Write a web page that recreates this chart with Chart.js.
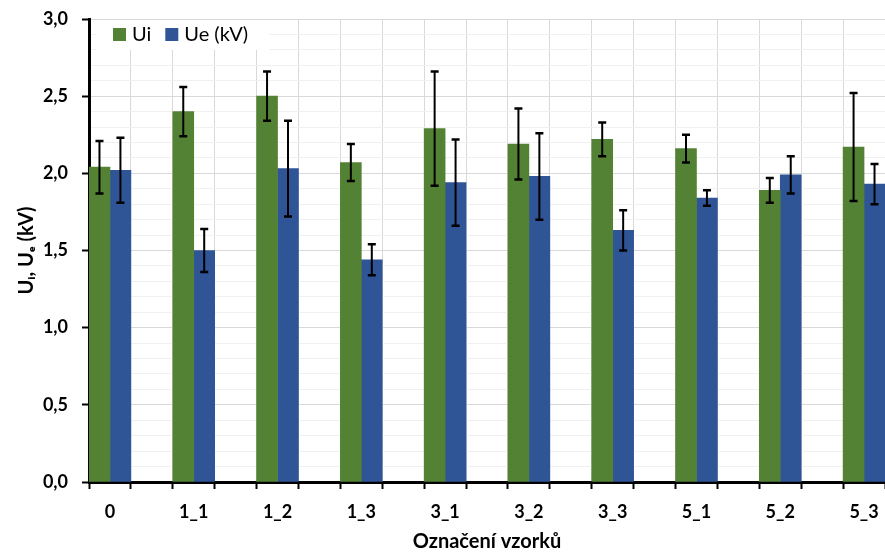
<!DOCTYPE html>
<html>
<head>
<meta charset="utf-8">
<script src="https://cdn.jsdelivr.net/npm/chart.js@4.4.1/dist/chart.umd.min.js"></script>
<style>
  html, body { margin: 0; padding: 0; background: #fff; }
  #wrap { width: 885px; height: 554px; }
</style>
</head>
<body>
<div id="wrap"><canvas id="chart" width="885" height="554"></canvas></div>
<script>
// sample names on the x axis
const categories = ['0', '1_1', '1_2', '1_3', '3_1', '3_2', '3_3', '5_1', '5_2', '5_3'];
// Ui means and their error bars (kV)
const uiValues = [2.04, 2.40, 2.50, 2.07, 2.29, 2.19, 2.22, 2.16, 1.89, 2.17];
const uiErrors = [0.17, 0.16, 0.16, 0.12, 0.37, 0.23, 0.11, 0.09, 0.08, 0.35];
// Ue means and their error bars (kV)
const ueValues = [2.02, 1.50, 2.03, 1.44, 1.94, 1.98, 1.63, 1.84, 1.99, 1.93];
const ueErrors = [0.21, 0.14, 0.31, 0.10, 0.28, 0.28, 0.13, 0.05, 0.12, 0.13];
// labelled y ticks, the rest of the 0.1 steps are minor grid only
const yMajorTicks = [0, 0.5, 1.0, 1.5, 2.0, 2.5, 3.0];

const FONT = "Lato, 'DejaVu Sans', sans-serif";
Chart.defaults.font.family = FONT;
Chart.defaults.color = '#000';

const isMajor = v => yMajorTicks.some(t => Math.abs(t - v) < 1e-6);
const isEdge = v => Math.abs(v - Math.round(v)) > 0.1;   // group edges sit at i +/- 0.25
const tickVal = c => (c && c.tick) ? c.tick.value : NaN;

// black error bars with caps, read from dataset.errors
const errorBars = {
  id: 'errorBars',
  afterDatasetsDraw(chart) {
    const ctx = chart.ctx;
    const yScale = chart.scales.y;
    ctx.save();
    ctx.strokeStyle = '#000';
    chart.data.datasets.forEach((ds, d) => {
      const meta = chart.getDatasetMeta(d);
      meta.data.forEach((bar, i) => {
        const v = ds.data[i].y, e = ds.errors[i];
        const top = yScale.getPixelForValue(v + e);
        const bot = yScale.getPixelForValue(v - e);
        ctx.lineWidth = 2;
        ctx.beginPath();
        ctx.moveTo(bar.x, top); ctx.lineTo(bar.x, bot);
        ctx.stroke();
        ctx.lineWidth = 2.5;
        ctx.beginPath();
        ctx.moveTo(bar.x - 4, top); ctx.lineTo(bar.x + 4, top);
        ctx.moveTo(bar.x - 4, bot); ctx.lineTo(bar.x + 4, bot);
        ctx.stroke();
      });
    });
    ctx.restore();
  }
};

// legend inside the plot, top left, on a white patch
const innerLegend = {
  id: 'innerLegend',
  afterDatasetsDraw(chart) {
    const ctx = chart.ctx;
    const a = chart.chartArea;
    ctx.save();
    ctx.font = '20px ' + FONT;
    let x = a.left + 24;
    const y = a.top + 9;
    const widths = chart.data.datasets.map(ds => ctx.measureText(ds.label).width);
    const total = widths.reduce((s, w) => s + w + 33, 0);
    ctx.fillStyle = '#fff';
    ctx.fillRect(a.left + 7, a.top + 1, total + 24, 30);
    ctx.textBaseline = 'middle';
    chart.data.datasets.forEach((ds, i) => {
      ctx.fillStyle = ds.backgroundColor;
      ctx.fillRect(x, y, 13, 13);
      ctx.fillStyle = '#000';
      ctx.fillText(ds.label, x + 19, y + 7);
      x += 19 + widths[i] + 14;
    });
    ctx.restore();
  }
};

new Chart(document.getElementById('chart'), {
  type: 'bar',
  data: {
    datasets: [
      {
        label: 'Ui',
        data: categories.map((c, i) => ({ x: i, y: uiValues[i] })),
        errors: uiErrors,
        backgroundColor: '#548235'
      },
      {
        label: 'Ue (kV)',
        data: categories.map((c, i) => ({ x: i, y: ueValues[i] })),
        errors: ueErrors,
        backgroundColor: '#2F5597'
      }
    ]
  },
  options: {
    responsive: false,
    animation: false,
    barThickness: 'flex',
    categoryPercentage: 0.5,
    barPercentage: 1.0,
    layout: { padding: { top: 19, right: 0, bottom: 0, left: 0 } },
    plugins: { legend: { display: false }, tooltip: { enabled: false } },
    scales: {
      x: {
        type: 'linear',
        offset: false,
        min: -0.25,
        max: categories.length - 0.75,
        afterBuildTicks: s => {
          const t = [];
          categories.forEach((c, i) => t.push({ value: i - 0.25 }, { value: i }, { value: i + 0.25 }));
          s.ticks = t;
        },
        // fixed box, and no extra side padding from the label gap
        afterFit: s => { s.height = 72; s.paddingLeft = 0; s.paddingRight = 0; },
        grid: {
          offset: false,
          color: c => isEdge(tickVal(c)) ? '#d9d9d9' : 'rgba(0,0,0,0)',
          tickColor: c => isEdge(tickVal(c)) ? '#000' : 'rgba(0,0,0,0)',
          tickLength: 7,
          tickWidth: 2
        },
        border: { color: '#000', width: 3 },
        ticks: {
          autoSkip: false, maxRotation: 0, minRotation: 0, padding: 12,
          font: { size: 18, weight: 'bold' },
          callback: v => Number.isInteger(v) ? categories[v] : ''
        },
        title: {
          display: true, text: 'Označení vzorků',
          font: { size: 20, weight: 'bold' },
          padding: { top: 4, bottom: 0 }
        }
      },
      y: {
        min: 0, max: 3,
        afterFit: s => { s.width = 89; s.paddingTop = 0; s.paddingBottom = 0; },
        grid: {
          color: c => isMajor(tickVal(c)) ? '#d9d9d9' : '#f0f0f0',
          tickColor: c => isMajor(tickVal(c)) ? '#000' : 'rgba(0,0,0,0)',
          tickLength: 7,
          tickWidth: 2
        },
        border: { color: '#000', width: 3 },
        ticks: {
          stepSize: 0.1, autoSkip: false, padding: 14,
          font: { size: 18, weight: 'bold' },
          callback: v => isMajor(v) ? v.toFixed(1).replace('.', ',') : ''
        },
        title: {
          display: true, text: 'Uᵢ, Uₑ (kV)',
          font: { size: 20, weight: 'bold' },
          padding: { top: 15, bottom: 0 }
        }
      }
    }
  },
  plugins: [errorBars, innerLegend]
});
</script>
</body>
</html>
